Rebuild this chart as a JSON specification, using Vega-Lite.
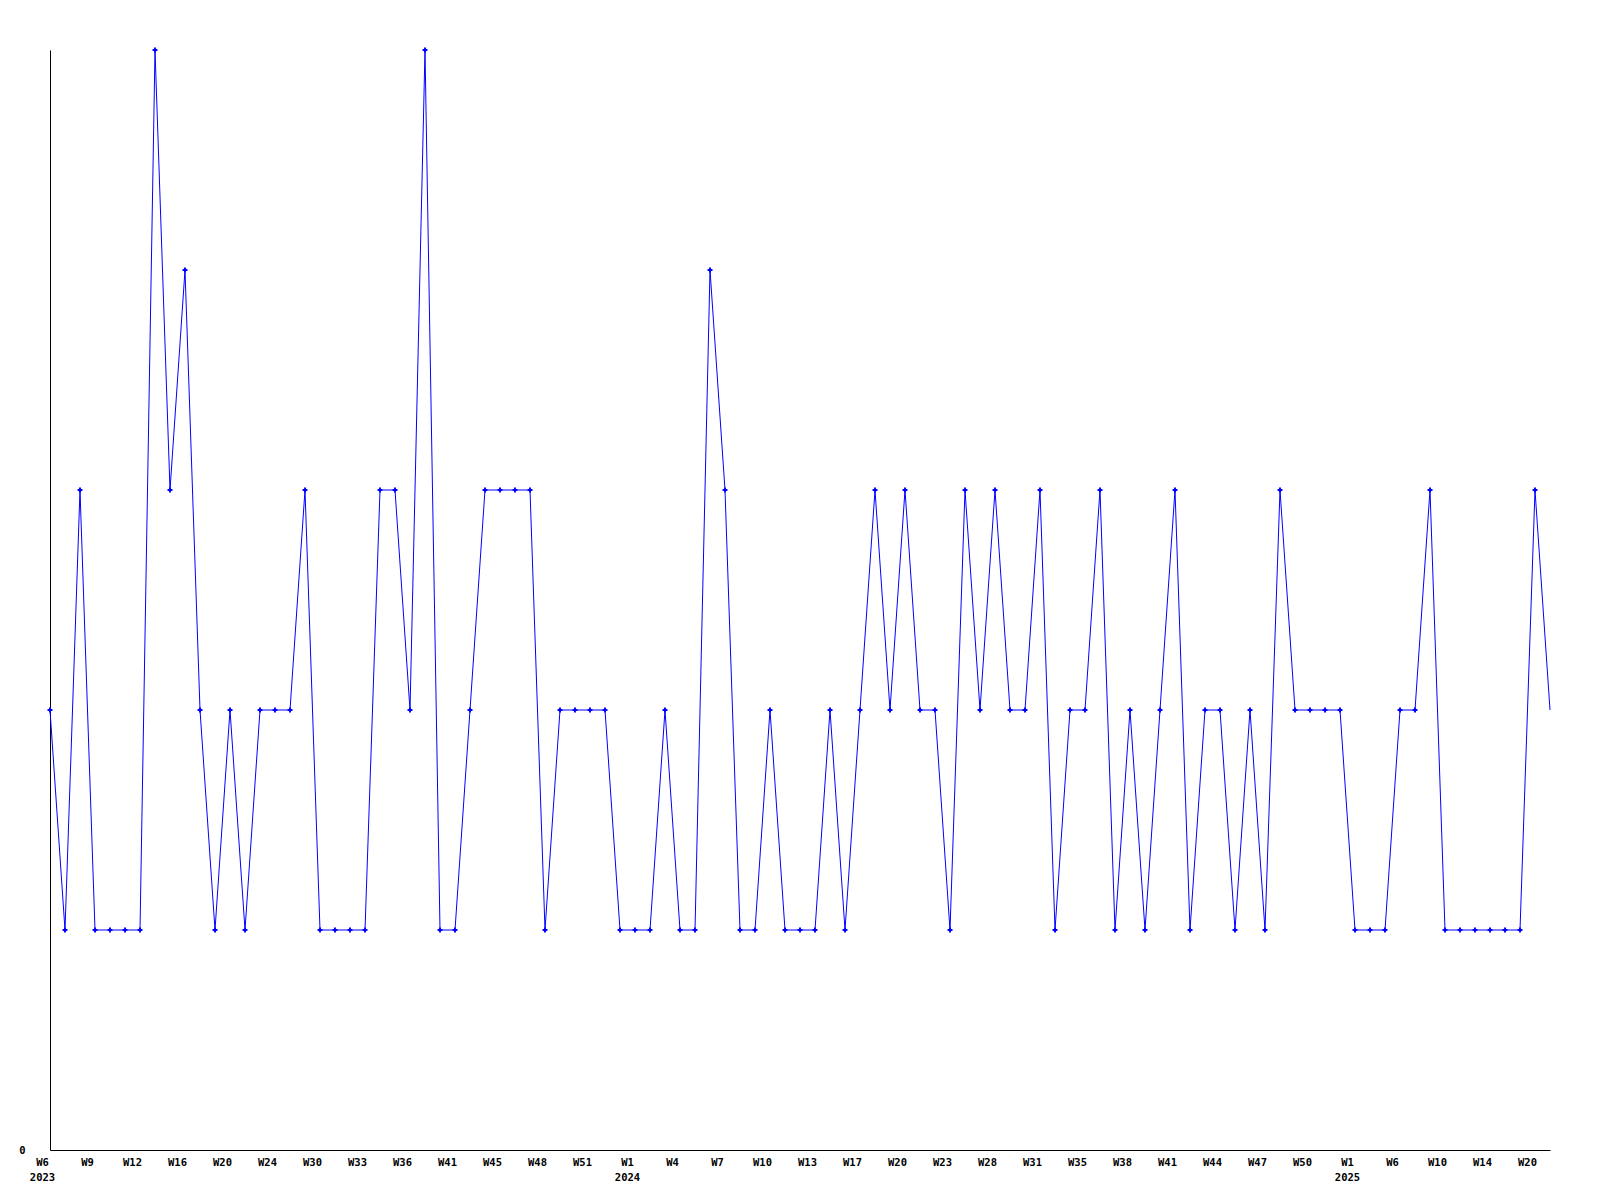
{
  "$schema": "https://vega.github.io/schema/vega-lite/v6.json",
  "width": 1500,
  "height": 1100,
  "autosize": {"type": "none"},
  "padding": {"left": 50, "top": 50, "right": 50, "bottom": 50},
  "background": "white",
  "config": {"view": {"stroke": null}},
  "data": {"values": [
    {"i":0,"wk":"2023-W6","v":2},{"i":1,"wk":"2023-W7","v":1},{"i":2,"wk":"2023-W8","v":3},
    {"i":3,"wk":"2023-W9","v":1},{"i":4,"wk":"2023-W10","v":1},{"i":5,"wk":"2023-W11","v":1},
    {"i":6,"wk":"2023-W12","v":1},{"i":7,"wk":"2023-W13","v":5},{"i":8,"wk":"2023-W14","v":3},
    {"i":9,"wk":"2023-W16","v":4},{"i":10,"wk":"2023-W17","v":2},{"i":11,"wk":"2023-W18","v":1},
    {"i":12,"wk":"2023-W20","v":2},{"i":13,"wk":"2023-W21","v":1},{"i":14,"wk":"2023-W22","v":2},
    {"i":15,"wk":"2023-W24","v":2},{"i":16,"wk":"2023-W26","v":2},{"i":17,"wk":"2023-W28","v":3},
    {"i":18,"wk":"2023-W30","v":1},{"i":19,"wk":"2023-W31","v":1},{"i":20,"wk":"2023-W32","v":1},
    {"i":21,"wk":"2023-W33","v":1},{"i":22,"wk":"2023-W34","v":3},{"i":23,"wk":"2023-W35","v":3},
    {"i":24,"wk":"2023-W36","v":2},{"i":25,"wk":"2023-W38","v":5},{"i":26,"wk":"2023-W39","v":1},
    {"i":27,"wk":"2023-W41","v":1},{"i":28,"wk":"2023-W43","v":2},{"i":29,"wk":"2023-W44","v":3},
    {"i":30,"wk":"2023-W45","v":3},{"i":31,"wk":"2023-W46","v":3},{"i":32,"wk":"2023-W47","v":3},
    {"i":33,"wk":"2023-W48","v":1},{"i":34,"wk":"2023-W49","v":2},{"i":35,"wk":"2023-W50","v":2},
    {"i":36,"wk":"2023-W51","v":2},{"i":37,"wk":"2023-W52","v":2},{"i":38,"wk":"2023-W53","v":1},
    {"i":39,"wk":"2024-W1","v":1},{"i":40,"wk":"2024-W2","v":1},{"i":41,"wk":"2024-W3","v":2},
    {"i":42,"wk":"2024-W4","v":1},{"i":43,"wk":"2024-W5","v":1},{"i":44,"wk":"2024-W6","v":4},
    {"i":45,"wk":"2024-W7","v":3},{"i":46,"wk":"2024-W8","v":1},{"i":47,"wk":"2024-W9","v":1},
    {"i":48,"wk":"2024-W10","v":2},{"i":49,"wk":"2024-W11","v":1},{"i":50,"wk":"2024-W12","v":1},
    {"i":51,"wk":"2024-W13","v":1},{"i":52,"wk":"2024-W14","v":2},{"i":53,"wk":"2024-W16","v":1},
    {"i":54,"wk":"2024-W17","v":2},{"i":55,"wk":"2024-W18","v":3},{"i":56,"wk":"2024-W19","v":2},
    {"i":57,"wk":"2024-W20","v":3},{"i":58,"wk":"2024-W21","v":2},{"i":59,"wk":"2024-W22","v":2},
    {"i":60,"wk":"2024-W23","v":1},{"i":61,"wk":"2024-W24","v":3},{"i":62,"wk":"2024-W26","v":2},
    {"i":63,"wk":"2024-W28","v":3},{"i":64,"wk":"2024-W29","v":2},{"i":65,"wk":"2024-W30","v":2},
    {"i":66,"wk":"2024-W31","v":3},{"i":67,"wk":"2024-W32","v":1},{"i":68,"wk":"2024-W33","v":2},
    {"i":69,"wk":"2024-W35","v":2},{"i":70,"wk":"2024-W36","v":3},{"i":71,"wk":"2024-W37","v":1},
    {"i":72,"wk":"2024-W38","v":2},{"i":73,"wk":"2024-W39","v":1},{"i":74,"wk":"2024-W40","v":2},
    {"i":75,"wk":"2024-W41","v":3},{"i":76,"wk":"2024-W42","v":1},{"i":77,"wk":"2024-W43","v":2},
    {"i":78,"wk":"2024-W44","v":2},{"i":79,"wk":"2024-W45","v":1},{"i":80,"wk":"2024-W46","v":2},
    {"i":81,"wk":"2024-W47","v":1},{"i":82,"wk":"2024-W48","v":3},{"i":83,"wk":"2024-W49","v":2},
    {"i":84,"wk":"2024-W50","v":2},{"i":85,"wk":"2024-W51","v":2},{"i":86,"wk":"2024-W52","v":2},
    {"i":87,"wk":"2025-W1","v":1},{"i":88,"wk":"2025-W2","v":1},{"i":89,"wk":"2025-W4","v":1},
    {"i":90,"wk":"2025-W6","v":2},{"i":91,"wk":"2025-W7","v":2},{"i":92,"wk":"2025-W9","v":3},
    {"i":93,"wk":"2025-W10","v":1},{"i":94,"wk":"2025-W11","v":1},{"i":95,"wk":"2025-W12","v":1},
    {"i":96,"wk":"2025-W14","v":1},{"i":97,"wk":"2025-W16","v":1},{"i":98,"wk":"2025-W18","v":1},
    {"i":99,"wk":"2025-W20","v":3},{"i":100,"wk":"2025-W21","v":2}
  ]},
  "encoding": {
    "x": {
      "field": "wk", "type": "ordinal", "sort": {"field": "i"},
      "scale": {"type": "point", "padding": 0},
      "axis": {
        "title": null,
        "values": ["2023-W6","2023-W9","2023-W12","2023-W16","2023-W20","2023-W24","2023-W30","2023-W33","2023-W36","2023-W41","2023-W45","2023-W48","2023-W51","2024-W1","2024-W4","2024-W7","2024-W10","2024-W13","2024-W17","2024-W20","2024-W23","2024-W28","2024-W31","2024-W35","2024-W38","2024-W41","2024-W44","2024-W47","2024-W50","2025-W1","2025-W6","2025-W10","2025-W14","2025-W20"],
        "labelExpr": "(datum.value == '2023-W6' || split(datum.value, '-')[1] == 'W1') ? [split(datum.value, '-')[1], split(datum.value, '-')[0]] : split(datum.value, '-')[1]",
        "labelAngle": 0,
        "labelAlign": "center",
        "labelOffset": -8,
        "labelBaseline": "top",
        "labelPadding": 7,
        "labelLineHeight": 15,
        "labelFont": "DejaVu Sans Mono",
        "labelFontWeight": "bold",
        "labelFontSize": 10.5,
        "labelColor": "black",
        "labelOverlap": false,
        "labelFlush": false,
        "ticks": false,
        "grid": false,
        "domainColor": "black",
        "domainWidth": 1
      }
    },
    "y": {
      "field": "v", "type": "quantitative",
      "scale": {"domain": [0, 5], "nice": false, "zero": true},
      "axis": {
        "title": null,
        "values": [0],
        "ticks": false,
        "grid": false,
        "labelPadding": 25,
        "labelFont": "DejaVu Sans Mono",
        "labelFontWeight": "bold",
        "labelFontSize": 10.5,
        "labelColor": "black",
        "domainColor": "black",
        "domainWidth": 1
      }
    }
  },
  "layer": [
    {"mark": {"type": "line", "color": "#0000ff", "strokeWidth": 1}},
    {
      "transform": [{"filter": "datum.i < 100"}],
      "mark": {"type": "point", "shape": "cross", "filled": true, "color": "#0000ff", "size": 24, "opacity": 1}
    }
  ]
}
